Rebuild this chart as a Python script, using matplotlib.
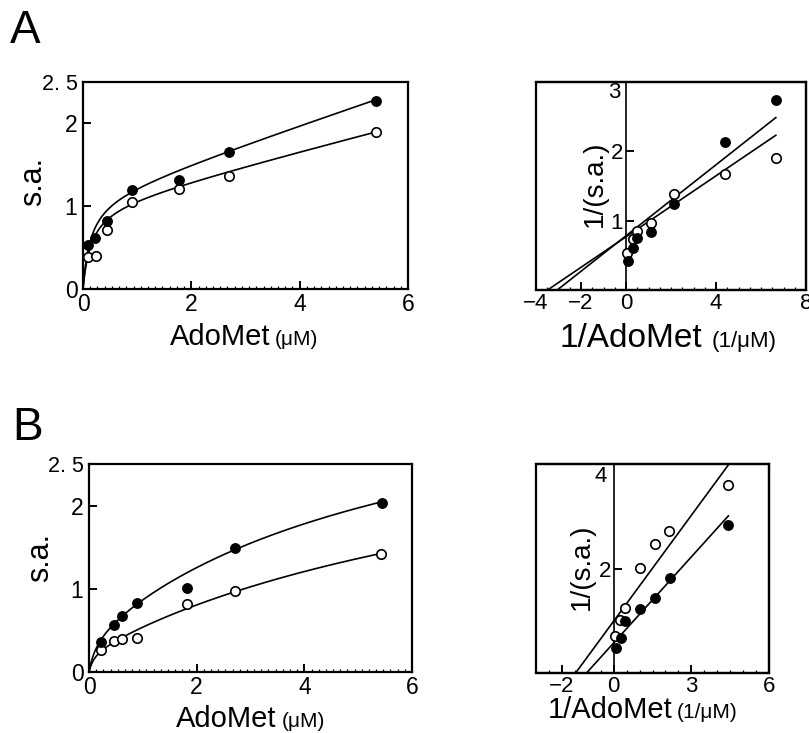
import numpy as np
import matplotlib
matplotlib.use("Agg")
import matplotlib.pyplot as plt
from matplotlib.ticker import MultipleLocator, FixedLocator
from matplotlib import font_manager as fm

# ---------------- data ----------------
# Panel A, left (s.a. vs AdoMet)
a_filled_x = [0.10, 0.23, 0.45, 0.90, 1.78, 2.69, 5.41]
a_filled_y = [0.53, 0.61, 0.82, 1.20, 1.32, 1.65, 2.27]
a_open_x = [0.09, 0.24, 0.45, 0.90, 1.78, 2.69, 5.41]
a_open_y = [0.385, 0.40, 0.71, 1.05, 1.21, 1.36, 1.90]
# curve parameters (two-hyperbola shape) : v1, k1, v2, k2
a_filled_curve = [1.12, 0.14, 222.0, 1000.0]
a_open_curve = [1.015, 0.15, 169.0, 1000.0]

# Panel A, right (double reciprocal)
ar_filled_x = [6.66, 4.42, 2.15, 1.10, 0.49, 0.29, 0.08]
ar_filled_y = [2.74, 2.13, 1.24, 0.83, 0.75, 0.61, 0.42]
ar_open_x = [6.66, 4.42, 2.15, 1.10, 0.49, 0.29, 0.05]
ar_open_y = [1.91, 1.67, 1.39, 0.96, 0.85, 0.73, 0.53]
ar_filled_line = [0.256, 0.782]   # slope, intercept
ar_open_line = [0.220, 0.767]

# Panel B, left
b_filled_x = [0.23, 0.46, 0.61, 0.90, 1.82, 2.71, 5.44]
b_filled_y = [0.36, 0.56, 0.67, 0.835, 1.01, 1.485, 2.03]
b_open_x = [0.23, 0.46, 0.61, 0.90, 1.82, 2.71, 5.42]
b_open_y = [0.27, 0.37, 0.40, 0.405, 0.82, 0.97, 1.42]
b_filled_curve = [0.45, 0.15, 3.47, 6.3]
b_open_curve = [0.25, 0.10, 3.18, 9.2]

# Panel B, right
br_filled_x = [4.43, 2.16, 1.60, 1.01, 0.43, 0.29, 0.10]
br_filled_y = [2.86, 1.83, 1.45, 1.23, 1.00, 0.68, 0.49]
br_open_x = [4.43, 2.12, 1.60, 1.02, 0.43, 0.26, 0.06]
br_open_y = [3.63, 2.73, 2.48, 2.03, 1.245, 1.02, 0.71]
br_filled_line = [0.553, 0.58]
br_open_line = [0.68, 1.00]

# ---------------- style ----------------
W, H = 809, 733
avail = {f.name for f in fm.fontManager.ttflist}
SANS = ['Liberation Sans', 'DejaVu Sans']
NARROW = ['Liberation Sans Narrow', 'Liberation Sans', 'DejaVu Sans'] if 'Liberation Sans Narrow' in avail else SANS

fig = plt.figure(figsize=(W / 100, H / 100), dpi=100)


def ax_px(l, t, r, b):
    return fig.add_axes([l / W, 1 - b / H, (r - l) / W, (b - t) / H])


def ftext(x, y, s, **kw):
    fig.text(x / W, 1 - y / H, s, **kw)


LW_SPINE = 1.6
MS = 6.8


def style_common(ax, fs):
    for sp in ax.spines.values():
        sp.set_linewidth(LW_SPINE)
    ax.tick_params(which='major', direction='in', length=6, width=1.4,
                   labelsize=fs, pad=2)
    ax.tick_params(which='minor', direction='in', length=2, width=0.9)
    ax.tick_params(top=False, right=False)
    for lab in ax.get_xticklabels() + ax.get_yticklabels():
        lab.set_fontfamily(NARROW)


def hyper2(x, p):
    v1, k1, v2, k2 = p
    return v1 * x / (k1 + x) + v2 * x / (k2 + x)


def draw_points(ax, fx, fy, ox, oy):
    ax.plot(ox, oy, 'o', ms=MS, mfc='white', mec='black', mew=1.2, zorder=4, clip_on=False)
    ax.plot(fx, fy, 'o', ms=MS, mfc='black', mec='black', mew=1.0, zorder=5, clip_on=False)


def left_panel(ax, fx, fy, ox, oy, pf, po):
    for xs, p in ((fx, pf), (ox, po)):
        xx = np.linspace(0, max(xs), 400)
        ax.plot(xx, hyper2(xx, p), color='black', lw=1.2, zorder=3)
    draw_points(ax, fx, fy, ox, oy)
    ax.set_xlim(0, 6)
    ax.set_ylim(0, 2.5)
    ax.xaxis.set_major_locator(FixedLocator([0, 2, 4, 6]))
    ax.xaxis.set_minor_locator(MultipleLocator(2 / 15))
    ax.yaxis.set_major_locator(FixedLocator([0, 1, 2, 2.5]))
    ax.set_yticklabels(['0', '1', '2', '2. 5'])
    ax.set_xticklabels(['0', '2', '4', '6'])
    style_common(ax, 16.5)
    ax.tick_params(axis='y', pad=4)
    ax.tick_params(axis='x', pad=3)
    ax.get_yticklabels()[-1].set_fontsize(15.5)


def right_panel(ax, fx, fy, ox, oy, lf, lo, xlim, ylim, xticks, yticks, ytop):
    for xs, (m, b) in ((fx, lf), (ox, lo)):
        x0 = (ylim[0] - b) / m
        x1 = max(xs)
        xx = np.array([x0, x1])
        ax.plot(xx, m * xx + b, color='black', lw=1.2, zorder=3)
    draw_points(ax, fx, fy, ox, oy)
    ax.set_xlim(*xlim)
    ax.set_ylim(*ylim)
    ax.xaxis.set_major_locator(FixedLocator(xticks))
    ax.xaxis.set_minor_locator(MultipleLocator(0.5))
    ax.yaxis.set_major_locator(FixedLocator(yticks))
    ax.set_yticklabels([str(t) for t in yticks])
    ax.set_xticklabels([('\u2212' + str(-t)) if t < 0 else str(t) for t in xticks])
    # center spine
    ax.spines['left'].set_position(('data', 0))
    ax.add_patch(plt.Rectangle((0, 0), 1, 1, transform=ax.transAxes, fill=False,
                               lw=LW_SPINE, ec='black', zorder=6, clip_on=False))
    style_common(ax, 16)
    ax.spines['left'].set_linewidth(1.2)
    ax.text(-0.25, ytop, str(ytop), ha='right', va='top', fontsize=16,
            family=NARROW, transform=ax.transData)


# ---------------- panels ----------------
axA = ax_px(83, 82, 408, 289)
left_panel(axA, a_filled_x, a_filled_y, a_open_x, a_open_y, a_filled_curve, a_open_curve)

axAr = ax_px(536, 82, 806, 290)
right_panel(axAr, ar_filled_x, ar_filled_y, ar_open_x, ar_open_y,
            ar_filled_line, ar_open_line, (-4, 8), (0, 3), [-4, -2, 0, 4, 8], [1, 2], 3)

axB = ax_px(89, 464, 412, 672)
left_panel(axB, b_filled_x, b_filled_y, b_open_x, b_open_y, b_filled_curve, b_open_curve)

axBr = ax_px(536, 464, 769, 673)
right_panel(axBr, br_filled_x, br_filled_y, br_open_x, br_open_y,
            br_filled_line, br_open_line, (-3, 6), (0, 4.03), [-2, 0, 3, 6], [2], 4)

# ---------------- labels ----------------
ftext(10, 43, 'A', fontsize=33, family=SANS, va='baseline', ha='left')
ftext(12, 440, 'B', fontsize=33, family=SANS, va='baseline', ha='left')

# axis titles
ftext(270, 345, 'AdoMet', fontsize=21, family=SANS, ha='right', va='baseline')
ftext(275, 345, '(\u03bcM)', fontsize=15, family=NARROW, ha='left', va='baseline')
ftext(276, 727, 'AdoMet', fontsize=21, family=SANS, ha='right', va='baseline')
ftext(282, 727, '(\u03bcM)', fontsize=15, family=NARROW, ha='left', va='baseline')

ftext(702, 347, '1/AdoMet', fontsize=24, family=SANS, ha='right', va='baseline')
ftext(712, 347, '(1/\u03bcM)', fontsize=16, family=NARROW, ha='left', va='baseline')
ftext(672, 718, '1/AdoMet', fontsize=21, family=SANS, ha='right', va='baseline')
ftext(677, 718, '(1/\u03bcM)', fontsize=15, family=NARROW, ha='left', va='baseline')

ftext(33, 182, 's.a.', fontsize=22, family=SANS, rotation=90, ha='center', va='center')
ftext(40, 558, 's.a.', fontsize=22, family=SANS, rotation=90, ha='center', va='center')
ftext(595, 184, '1/(s.a.)', fontsize=20, family=SANS, rotation=90, ha='center', va='center')
ftext(582, 567, '1/(s.a.)', fontsize=20, family=SANS, rotation=90, ha='center', va='center')

fig.savefig('out.png', dpi=100)
